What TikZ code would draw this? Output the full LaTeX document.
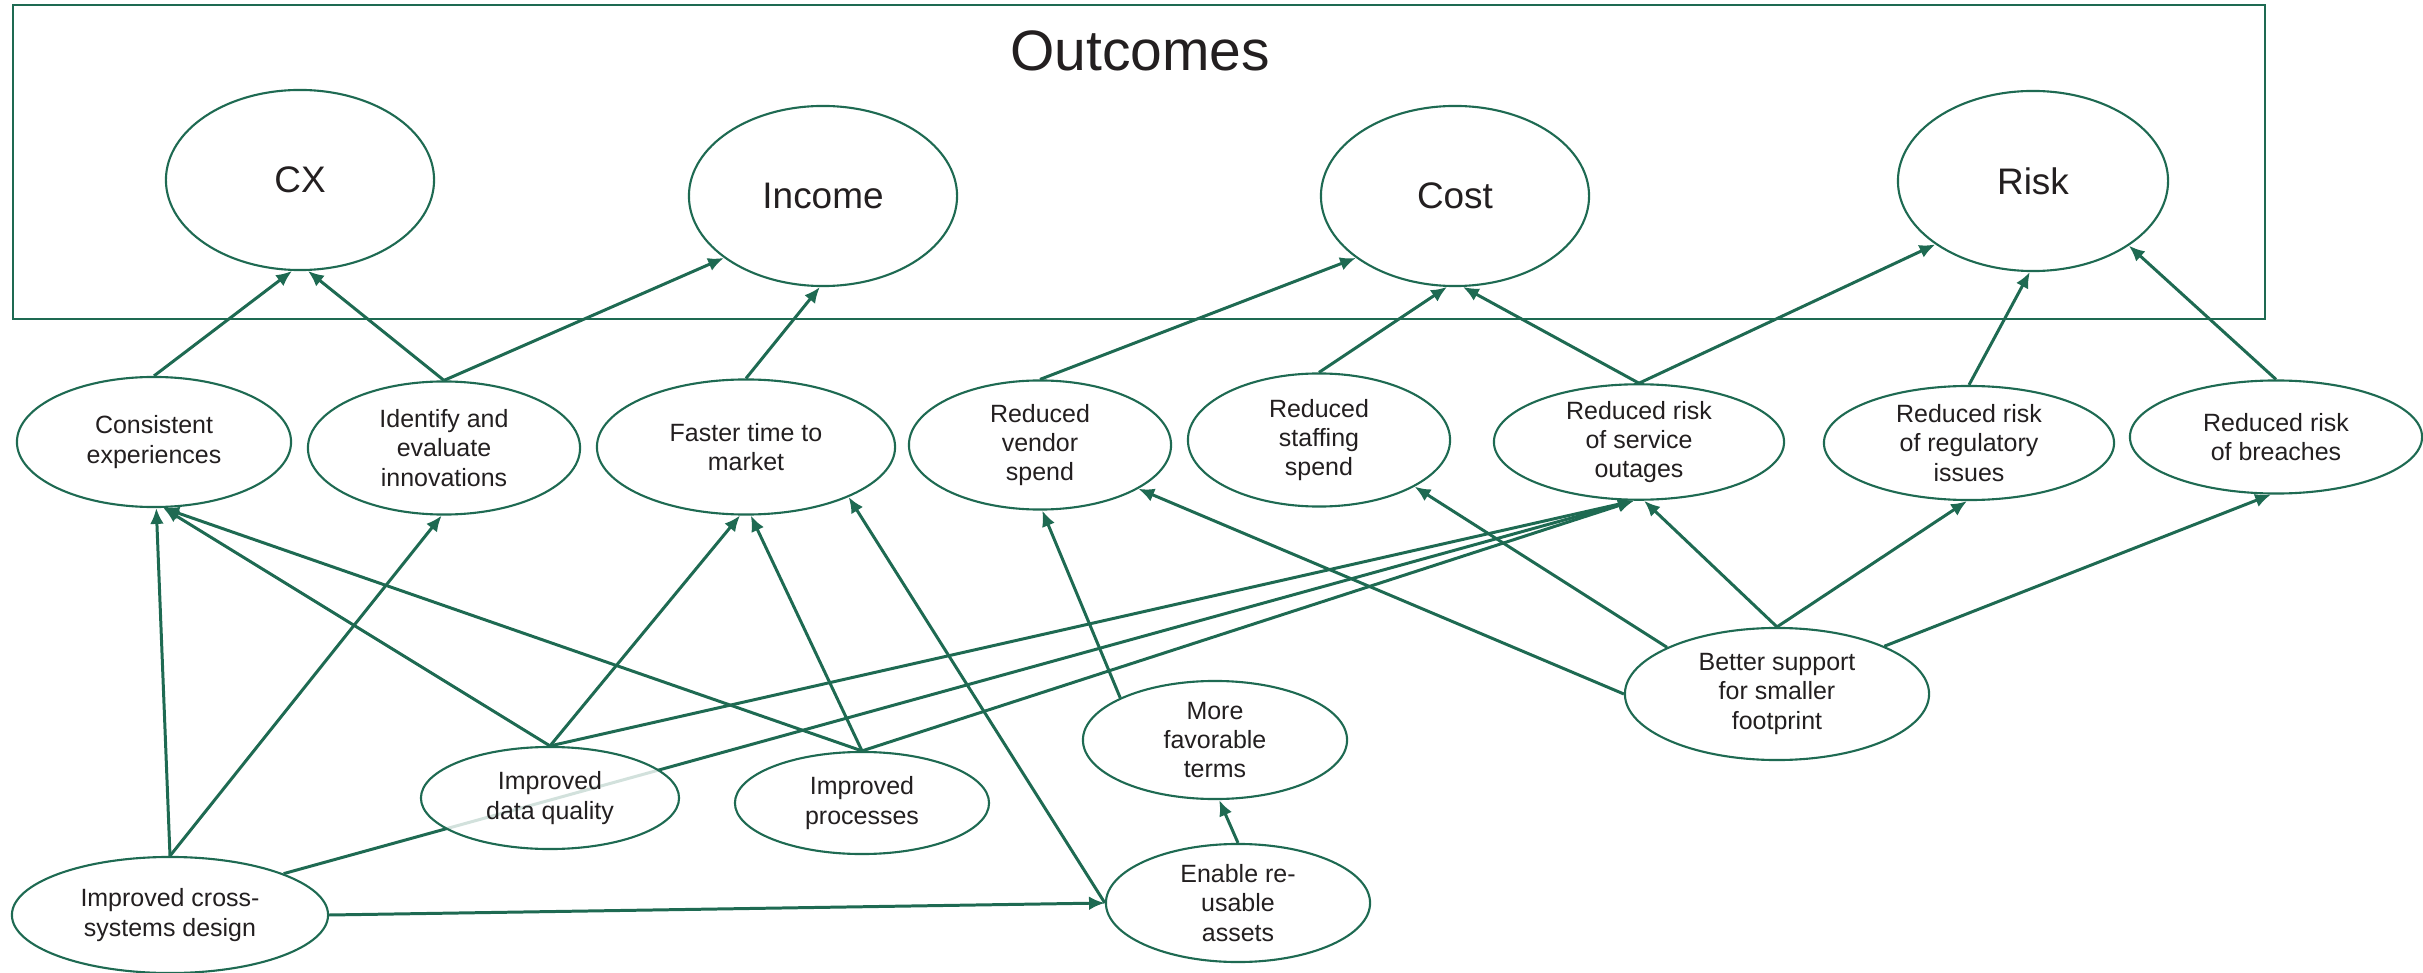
\documentclass[tikz,border=0pt]{standalone}
\usepackage{fontspec}
\setmainfont{Liberation Sans}
\usetikzlibrary{shapes.geometric,arrows.meta}
\definecolor{gr}{RGB}{30,106,82}
\definecolor{tx}{RGB}{35,31,32}
\pgfdeclarelayer{bg}
\pgfsetlayers{bg,main}
\begin{document}
\begin{tikzpicture}[x=0.01cm,y=-0.01cm,
  ell/.style={ellipse,draw=gr,line width=0.6pt,fill=white,fill opacity=0.8,text opacity=1,
    inner sep=0pt,align=center,text=tx,font=\fontsize{7.1}{8.3}\selectfont},
  big/.style={ellipse,draw=gr,line width=0.6pt,fill=white,inner sep=0pt,text=tx,
    font=\fontsize{10.5}{12}\selectfont,minimum width=26.8mm,minimum height=18mm},
  link/.style={draw=gr,line width=0.85pt,-{Latex[length=4.5pt,width=3.9pt]}}]
\useasboundingbox (0,0) rectangle (2423,973);
\draw[gr,line width=0.8pt] (13,5) rectangle (2265,319);
\node[anchor=base,text=tx,font=\fontsize{16.2}{19}\selectfont] (title) at (1140,71) {Outcomes};
% outcome nodes
\node[big] (cx) at (300,180) {CX};
\node[big] (income) at (823,196) {Income};
\node[big] (cost) at (1455,196) {Cost};
\node[big,minimum width=27mm] (risk) at (2033,181) {Risk};
% second row
\node[ell,minimum width=27.4mm,minimum height=13mm] (consistent) at (154,442) {Consistent\\experiences};
\node[ell,minimum width=27.2mm,minimum height=13.3mm] (identify) at (444,448) {Identify and\\evaluate\\innovations};
\node[ell,minimum width=29.8mm,minimum height=13.5mm] (faster) at (746,447) {Faster time to\\market};
\node[ell,minimum width=26.2mm,minimum height=12.9mm] (vendor) at (1040,445) {Reduced\\vendor\\spend};
\node[ell,minimum width=26.2mm,minimum height=13.3mm] (staffing) at (1319,440) {Reduced\\staffing\\spend};
\node[ell,minimum width=29mm,minimum height=11.4mm] (outages) at (1639,442) {Reduced risk\\of service\\outages};
\node[ell,minimum width=29mm,minimum height=11.4mm] (regulatory) at (1969,443) {Reduced risk\\of regulatory\\issues};
\node[ell,minimum width=29.2mm,minimum height=11.3mm] (breaches) at (2276,437) {Reduced risk\\of breaches};
% lower nodes
\node[ell,minimum width=25.8mm,minimum height=10.2mm] (dq) at (550,798) {Improved\\data quality};
\node[ell,minimum width=25.4mm,minimum height=10.2mm] (proc) at (862,803) {Improved\\processes};
\node[ell,minimum width=31.6mm,minimum height=11.6mm] (cross) at (170,915) {Improved cross-\\systems design};
\node[ell,minimum width=26.4mm,minimum height=11.8mm] (more) at (1215,740) {More\\favorable\\terms};
\node[ell,minimum width=26.4mm,minimum height=11.8mm] (enable) at (1238,903) {Enable re-\\usable\\assets};
\node[ell,minimum width=30.4mm,minimum height=13.2mm] (better) at (1777,694) {Better support\\for smaller\\footprint};
\begin{pgfonlayer}{bg}
\draw[link] (consistent.north) -- (cx.265);
\draw[link] (identify.north) -- (cx.275);
\draw[link] (identify.north) -- (income.212);
\draw[link] (faster.north) -- (income.268);
\draw[link] (vendor.north) -- (cost.212);
\draw[link] (staffing.north) -- (cost.265);
\draw[link] (outages.north) -- (cost.275);
\draw[link] (outages.north) -- (risk.213);
\draw[link] (regulatory.north) -- (risk.268);
\draw[link] (breaches.north) -- (risk.326);
\draw[link] (cross.north) -- (consistent.272);
\draw[link] (cross.north) -- (identify.268);
\draw[link] (cross.20) -- (outages.265);
\draw[link] (cross.east) -- (enable.west);
\draw[link] (dq.north) -- (consistent.278);
\draw[link] (dq.north) -- (faster.265);
\draw[link] (dq.north) -- (outages.265);
\draw[link] (proc.north) -- (consistent.278);
\draw[link] (proc.north) -- (faster.274);
\draw[link] (proc.north) -- (outages.265);
\draw[link] (enable.west) -- (faster.334);
\draw[link] (enable.north) -- (more.274);
\draw[link] (more.156) -- (vendor.272);
\draw[link] (better.west) -- (vendor.336);
\draw[link] (better.157) -- (staffing.334);
\draw[link] (better.north) -- (outages.275);
\draw[link] (better.north) -- (regulatory.268);
\draw[link] (better.24) -- (breaches.265);
\end{pgfonlayer}
\end{tikzpicture}
\end{document}
